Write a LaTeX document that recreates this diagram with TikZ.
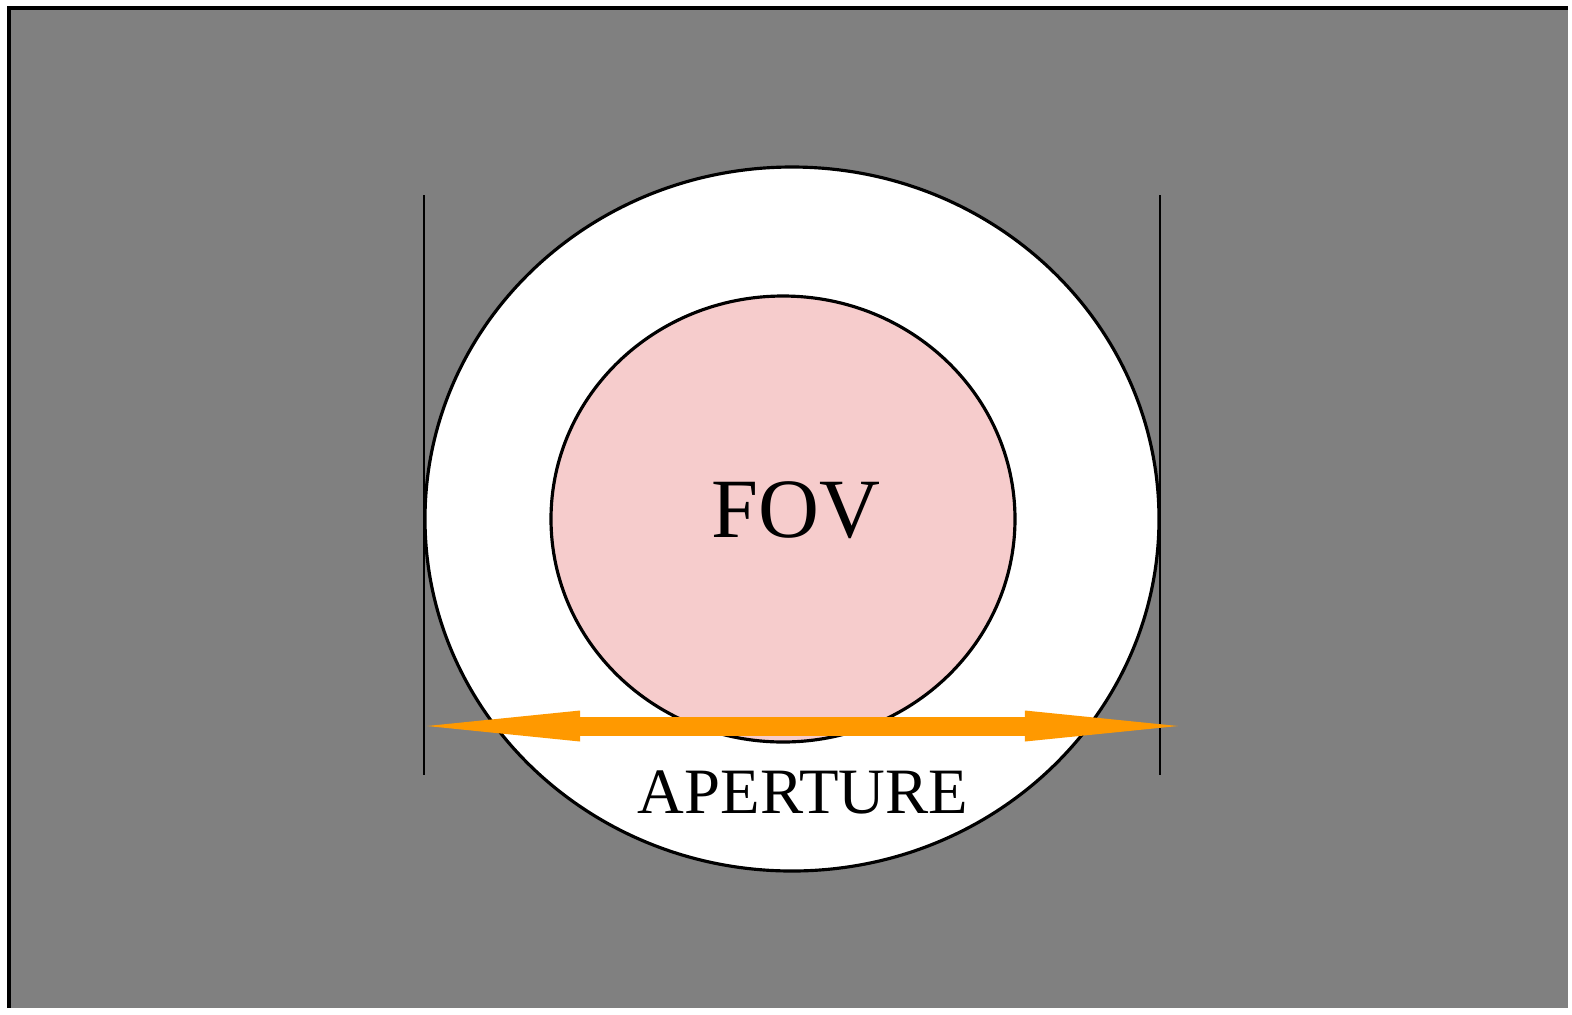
\documentclass[tikz,border=0pt]{standalone}
\usepackage{fontspec}
\setmainfont{Liberation Serif}
\usetikzlibrary{positioning, arrows.meta}

\definecolor{bggray}{RGB}{128,128,128}
\definecolor{fovpink}{RGB}{246,204,204}
\definecolor{apertorange}{RGB}{255,153,0}

\begin{document}
\begin{tikzpicture}[
  x=0.01cm, y=-0.01cm,
  lens/.style={draw=black, line width=0.9pt},
  edge/.style={draw=black, line width=0.8pt},
  span/.style={{Triangle[length=1.53cm, width=0.31cm, line width=0pt]}-{Triangle[length=1.53cm, width=0.31cm, line width=0pt]},
    line width=0.19cm, draw=apertorange}
]
\useasboundingbox (0,0) rectangle (1572,1014);

% --- background field ---
\fill[bggray] (9,8) rectangle (1568,1008);
\draw[black, line width=1.2pt] (9,1008) -- (9,8) -- (1568,8);

% --- aperture disc and field of view ---
\draw[lens, fill=white] (792,519) ellipse [x radius=367, y radius=352];
\draw[lens, fill=fovpink] (783,519) ellipse [x radius=232, y radius=223];
\node[font=\fontsize{24}{28}\selectfont] (fov) at (796,510) {FOV};

% --- aperture limits ---
\coordinate (ltop) at (424,195);
\coordinate (lbot) at (424,775);
\coordinate (rtop) at (1160,195);
\coordinate (rbot) at (1160,775);
\draw[edge] (ltop) -- (lbot);
\draw[edge] (rtop) -- (rbot);

% the aperture width
\coordinate (aleft) at (427,726);
\coordinate (aright) at (1178,726);
\draw[span] (aleft) -- (aright);
\node[font=\fontsize{18.4}{22}\selectfont] (aperture) at (803,792) {APERTURE};

\end{tikzpicture}
\end{document}
